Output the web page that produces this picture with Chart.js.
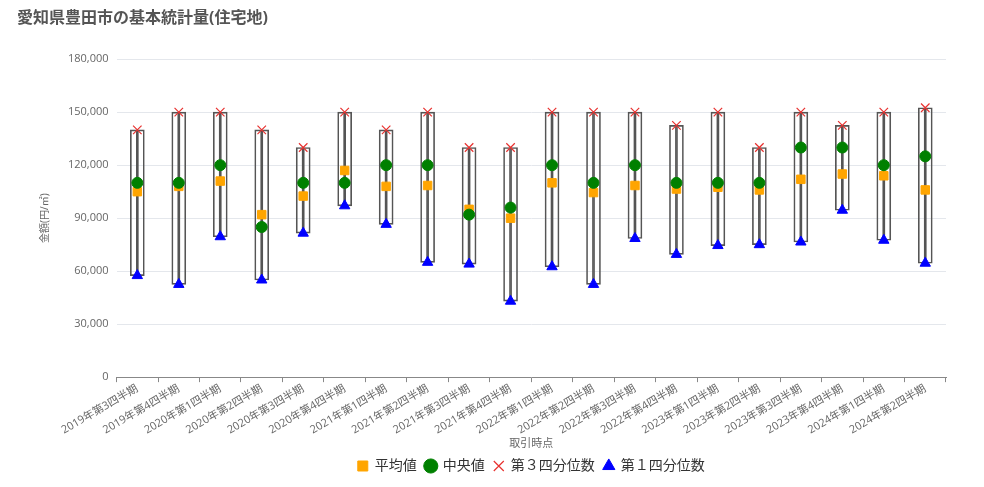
<!DOCTYPE html>
<html>
<head>
<meta charset="utf-8">
<script src="https://cdn.jsdelivr.net/npm/chart.js@4"></script>
<style>
  body { margin: 0; background: #fff; }
  #wrap { width: 984px; height: 487px; }
</style>
</head>
<body>
<div id="wrap"><canvas id="myChart"></canvas></div>
<script>
// quarterly stats for 豊田市 residential land
const labels = ['2019年第3四半期','2019年第4四半期','2020年第1四半期','2020年第2四半期','2020年第3四半期','2020年第4四半期',
    '2021年第1四半期','2021年第2四半期','2021年第3四半期','2021年第4四半期','2022年第1四半期','2022年第2四半期',
    '2022年第3四半期','2022年第4四半期','2023年第1四半期','2023年第2四半期','2023年第3四半期','2023年第4四半期',
    '2024年第1四半期','2024年第2四半期'];
const meanVals = [105000,108000,111000,92000,102500,117000,108000,108500,95000,90000,110000,104500,108500,106500,107500,106000,112000,115000,114000,106000];
const medianVals = [110000,110000,120000,85000,110000,110000,120000,120000,92000,96000,120000,110000,120000,110000,110000,110000,130000,130000,120000,125000];
const q3Vals = [140000,150000,150000,140000,130000,150000,140000,150000,130000,130000,150000,150000,150000,142500,150000,130000,150000,142500,150000,152500];
const q1Vals = [57500,52500,79500,55000,81500,97000,86500,65000,64000,43000,62500,52500,78500,69500,74500,75000,76500,94500,77500,64500];
const yTicks = [0,30000,60000,90000,120000,150000,180000];

const fontFamily = "'Segoe UI', 'Open Sans', 'Noto Sans CJK JP', sans-serif";
Chart.defaults.font.family = fontFamily;
Chart.defaults.color = '#666';

let boxData = q1Vals.map((v, i) => [v, q3Vals[i]]);

function boxSet(){
    return {
        type: 'bar',
        data: boxData,
        backgroundColor: 'rgba(0,0,0,0)',
        borderColor: '#555',
        borderWidth: 1,
        borderSkipped: false,
        barThickness: 7,
        order: 10
    };
}

// keep the legend centred under the plot area, not the whole canvas
const centerLegend = {
    id: 'centerLegend',
    afterLayout(chart){
        const lg = chart.legend;
        const area = chart.chartArea;
        const shift = (area.left + area.right) / 2 - (lg.left + lg.right) / 2;
        lg.left += shift;
        lg.right += shift;
    }
};

const ctx = document.getElementById('myChart').getContext('2d');
const myChart = new Chart(ctx, {
    data: {
        labels: labels,
        datasets: [{
            type: 'line',
            label: '平均値',
            data: meanVals,
            showLine: false,
            pointStyle: 'rect',
            pointRadius: 6,
            pointHoverRadius: 6,
            backgroundColor: '#FFA500',
            borderColor: '#FFA500',
            order: 2
        }, {
            type: 'line',
            label: '中央値',
            data: medianVals,
            showLine: false,
            pointStyle: 'circle',
            pointRadius: 5.5,
            pointHoverRadius: 5.5,
            backgroundColor: '#008000',
            borderColor: '#008000',
            order: 1
        }, {
            type: 'line',
            label: '第３四分位数',
            data: q3Vals,
            showLine: false,
            pointStyle: 'crossRot',
            pointRadius: 6,
            pointBorderWidth: 1.2,
            backgroundColor: '#e8312f',
            borderColor: '#e8312f',
            order: 0
        }, {
            type: 'line',
            label: '第１四分位数',
            data: q1Vals,
            showLine: false,
            pointStyle: 'triangle',
            pointRadius: 6,
            pointHoverRadius: 6,
            backgroundColor: '#0000FF',
            borderColor: '#0000FF',
            order: 0
        }, boxSet(), boxSet()]
    },
    plugins: [centerLegend],
    options: {
        responsive: true,
        maintainAspectRatio: false,
        animation: false,
        layout: {
            padding: { left: 17, right: 38, top: 5, bottom: 4 }
        },
        plugins: {
            title: {
                display: true,
                text: '愛知県豊田市の基本統計量(住宅地)',
                align: 'start',
                color: '#555',
                font: { size: 16, weight: 'bold' },
                padding: { top: 4, bottom: 31 },
                position: 'top'
            },
            legend: {
                position: 'bottom',
                labels: {
                    usePointStyle: true,
                    boxWidth: 10,
                    boxHeight: 10,
                    padding: 9,
                    color: '#333',
                    font: { size: 14 },
                    filter: (item) => item.datasetIndex < 4,
                    sort: (a, b) => a.datasetIndex - b.datasetIndex
                }
            },
            tooltip: { enabled: false }
        },
        scales: {
            x: {
                offset: true,
                grid: {
                    display: true,
                    drawOnChartArea: false,
                    offset: true,
                    tickLength: 5,
                    color: '#888'
                },
                border: { color: '#888' },
                ticks: {
                    maxRotation: 30,
                    minRotation: 30,
                    padding: 0,
                    font: { size: 11 },
                    color: '#666',
                    autoSkip: false
                },
                title: {
                    display: true,
                    text: '取引時点',
                    font: { size: 11 },
                    color: '#666',
                    padding: { top: 0, bottom: 0 }
                }
            },
            y: {
                min: 0,
                max: 180000,
                afterBuildTicks: (axis) => { axis.ticks = yTicks.map(v => ({ value: v })); },
                grid: {
                    color: '#e4e7ec',
                    drawTicks: false
                },
                border: { display: false },
                ticks: {
                    padding: 8,
                    font: { size: 11 },
                    color: '#666',
                    callback: (v) => v.toLocaleString('en-US')
                },
                title: {
                    display: true,
                    text: '金額(円/㎡)',
                    font: { size: 10 },
                    color: '#666',
                    padding: { top: 22, bottom: 9 }
                }
            }
        }
    }
});
</script>
</body>
</html>
